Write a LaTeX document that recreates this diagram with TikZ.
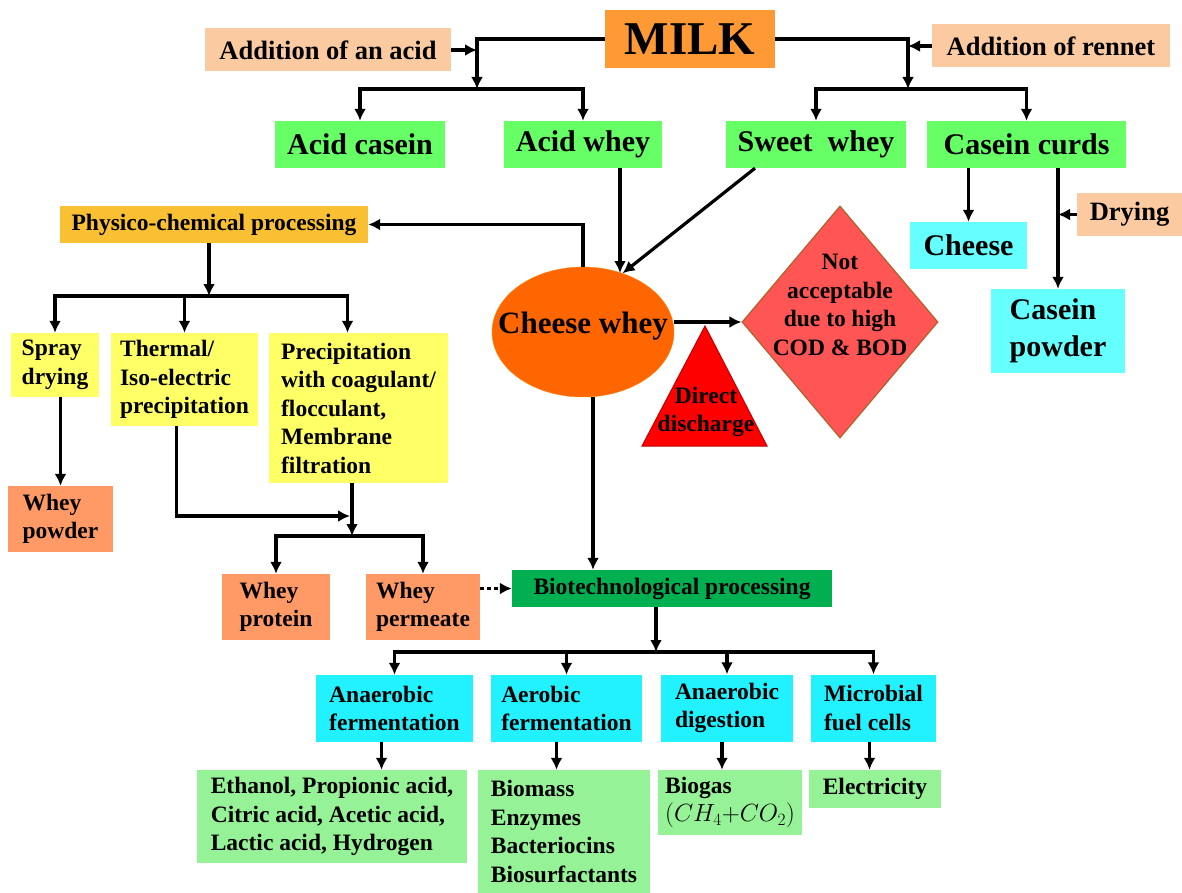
\documentclass[tikz,border=0pt]{standalone}
\usepackage{fontspec}
\setmainfont{Liberation Serif}
\usetikzlibrary{arrows.meta,shapes.geometric,calc}

\definecolor{milkor}{HTML}{FF9933}
\definecolor{peach}{HTML}{FBCAA0}
\definecolor{grn}{HTML}{66FF66}
\definecolor{gold}{HTML}{F9C033}
\definecolor{ylw}{HTML}{FFFF66}
\definecolor{salmon}{HTML}{FF9966}
\definecolor{dkgrn}{HTML}{00B050}
\definecolor{cyntop}{HTML}{66FFFF}
\definecolor{cynbot}{HTML}{22F2FF}
\definecolor{ltgrn}{HTML}{96F296}
\definecolor{orng}{HTML}{FF6600}
\definecolor{dia}{HTML}{FF5555}
\definecolor{diabrd}{HTML}{B0602A}
\definecolor{tri}{HTML}{FF0000}
\definecolor{tribrd}{HTML}{C00000}

\newcommand{\fntsmall}{\fontsize{23.5}{28.5}\selectfont\bfseries}
\newcommand{\fntmid}{\fontsize{30}{37}\selectfont\bfseries}
\newcommand{\fntadd}{\fontsize{26.5}{31}\selectfont\bfseries}
\newcommand{\fntbig}{\fontsize{47}{50}\selectfont\bfseries}
\newcommand{\fntcw}{\fontsize{31}{36}\selectfont\bfseries}

\begin{document}
\begin{tikzpicture}[x=1pt,y=-1pt,
  box/.style={rectangle,inner xsep=6pt,inner ysep=2pt,align=left,font=\fntsmall},
  arr/.style={line width=3.2pt,-{Latex[length=12pt,width=12pt]}}]
\useasboundingbox (0,0) rectangle (1182,893);

% milk and the two additions
\node[box,fill=milkor,font=\fntbig,minimum width=170pt,minimum height=58pt] (milk) at (690,39) {MILK};
\node[box,fill=peach,font=\fntadd,minimum width=246pt,minimum height=43pt] (acidadd) at (328,50) {Addition of an acid};
\node[box,fill=peach,font=\fntadd,minimum width=238pt,minimum height=43pt] (rennet) at (1051,46) {Addition of rennet};

\node[box,fill=grn,font=\fntmid,minimum width=170pt,minimum height=47pt] (acasein) at (360,144.5) {Acid casein};
\node[box,fill=grn,font=\fntmid,minimum width=158pt,minimum height=47pt] (awhey) at (583,144.5) {Acid whey};
\node[box,fill=grn,font=\fntmid,minimum width=180pt,minimum height=47pt] (swhey) at (816,144.5) {Sweet\ \ whey};
\node[box,fill=grn,font=\fntmid,minimum width=199pt,minimum height=47pt] (curds) at (1026.5,144.5) {Casein curds};

% cheese whey and what happens to it
\node[box,fill=gold,minimum width=308pt,minimum height=37pt] (physico) at (214,224.5) {Physico-chemical processing};
\node[ellipse,fill=orng,draw=orng!80!yellow,minimum width=182pt,minimum height=130pt,inner sep=0pt] (cw) at (583,332) {};
\node[font=\fntcw] (cwtxt) at (583,326) {Cheese whey};
\node[diamond,fill=dia,draw=diabrd,line width=1.2pt,minimum width=196pt,minimum height=232pt,inner sep=0pt] (nacc) at (840,322) {};
\node[font=\fntsmall,align=center] (nacctxt) at (840,305) {Not\\acceptable\\due to high\\COD \& BOD};
\filldraw[fill=tri,draw=tribrd,line width=1pt] (705,326) coordinate (dtop) -- (767,446) -- (642,446) -- cycle;
\node[font=\fntsmall,align=center] (dd) at (706,412) {Direct\\discharge};

% casein side
\node[box,fill=cyntop,font=\fntmid,minimum width=117pt,minimum height=47pt] (cheese) at (968.5,245.5) {Cheese};
\node[box,fill=peach,font=\fntadd,minimum width=105pt,minimum height=43pt] (drying) at (1129.5,214.5) {Drying};
\node[box,fill=cyntop,font=\fntmid,minimum width=134pt,minimum height=84pt] (cpowder) at (1058,331) {Casein\\powder};

% physico-chemical branch
\node[box,fill=ylw,minimum width=88pt,minimum height=64pt] (spray) at (55,365) {Spray\\drying};
\node[box,fill=ylw,minimum width=147pt,minimum height=93pt] (thermal) at (184.5,379.5) {Thermal/\\Iso-electric\\precipitation};
\node[box,fill=ylw,minimum width=179pt,minimum height=150pt] (precip) at (358.5,408) {Precipitation\\with coagulant/\\flocculant,\\Membrane\\filtration};
\node[box,fill=salmon,minimum width=105pt,minimum height=66pt] (wpowder) at (60.5,519) {Whey\\powder};
\node[box,fill=salmon,minimum width=108pt,minimum height=66pt] (wprot) at (276,607) {Whey\\protein};
\node[box,fill=salmon,minimum width=114pt,minimum height=66pt] (wperm) at (423,607) {Whey\\permeate};

% biotechnological branch
\node[box,fill=dkgrn,minimum width=320pt,minimum height=37pt] (biotech) at (672,588.5) {Biotechnological processing};
\node[box,fill=cynbot,minimum width=157pt,minimum height=67pt] (anf) at (394.5,708.5) {Anaerobic\\fermentation};
\node[box,fill=cynbot,minimum width=151pt,minimum height=67pt] (aef) at (566.5,708.5) {Aerobic\\fermentation};
\node[box,fill=cynbot,minimum width=132pt,minimum height=67pt] (and) at (727,708) {Anaerobic\\digestion};
\node[box,fill=cynbot,minimum width=125pt,minimum height=67pt] (mfc) at (873.5,708) {Microbial\\fuel cells};
\node[box,fill=ltgrn,minimum width=270pt,minimum height=93pt] (eth) at (332,816.5) {Ethanol, Propionic acid,\\Citric acid, Acetic acid,\\Lactic acid, Hydrogen};
\node[box,fill=ltgrn,minimum width=172pt,minimum height=123pt] (bio) at (564,831.5) {Biomass\\Enzymes\\Bacteriocins\\Biosurfactants};
\node[box,fill=ltgrn,minimum width=144pt,minimum height=65pt] (gas) at (730,802.5) {Biogas\\$(CH_4{+}CO_2)$};
\node[box,fill=ltgrn,minimum width=132pt,minimum height=38pt] (elec) at (875,789) {Electricity};

% junctions
\coordinate (jA) at (477,89);
\coordinate (jR) at (908,89);
\coordinate (cwA) at (620,273);
\coordinate (jP) at (209,296);
\coordinate (jT) at (350,516);
\coordinate (jW) at (352,536);
\coordinate (jB) at (656,652);

% top connectors
\draw[arr] (milk.west) -| (jA);
\draw[arr] (acidadd.east) -- (acidadd.east -| jA);
\draw[arr] (jA) -| (acasein.north);
\draw[arr] (jA) -| (awhey.north);
\draw[arr] (milk.east) -| (jR);
\draw[arr] (rennet.west) -- (rennet.west -| jR);
\draw[arr] (jR) -| (swhey.north);
\draw[arr] (jR) -| (curds.north);

\draw[arr] (awhey.south -| cwA) -- (cwA);
\draw[arr] ($(swhey.south)+(-61,0)$) -- (cw.56);
\draw[arr] (cw.north) |- (physico.east);
\draw[arr] (cw.east |- nacc.west) -- (nacc.west);
\draw[arr] ($(cw.south)+(10,0)$) coordinate (cwS) -- (cwS |- biotech.north);

\draw[arr] (cheese.north |- curds.south) -- (cheese.north);
\draw[arr] (cpowder.north |- curds.south) -- (cpowder.north);
\draw[arr] (drying.west) -- (drying.west -| cpowder.north);

% physico-chemical connectors
\draw[arr] (physico.south -| jP) -- (jP);
\draw[arr] (jP) -| (spray.north);
\draw[arr] (jP) -| (thermal.north);
\draw[arr] (jP) -| ($(precip.north)+(-11,0)$);
\draw[arr] (wpowder.north |- spray.south) -- (wpowder.north);
\draw[arr] ($(thermal.south)+(-8,0)$) |- (jT);
\draw[arr] (precip.south -| jW) -- (jW);
\draw[arr] (jW) -| (wprot.north);
\draw[arr] (jW) -| (wperm.north);
\draw[arr,dash pattern=on 4pt off 3pt] (wperm.east |- biotech.west) -- (biotech.west);

% biotechnological connectors
\draw[arr] (biotech.south -| jB) -- (jB);
\draw[arr] (jB) -| (anf.north);
\draw[arr] (jB) -| (aef.north);
\draw[arr] (jB) -| (and.north);
\draw[arr] (jB) -| (mfc.north);
\draw[arr] ($(anf.south)+(-13,0)$) coordinate (aS) -- (aS |- eth.north);
\draw[arr] ($(aef.south)+(-10,0)$) coordinate (bS) -- (bS |- bio.north);
\draw[arr] ($(and.south)+(-5,0)$) coordinate (cS) -- (cS |- gas.north);
\draw[arr] ($(mfc.south)+(-4,0)$) coordinate (dS) -- (dS |- elec.north);
\end{tikzpicture}
\end{document}
